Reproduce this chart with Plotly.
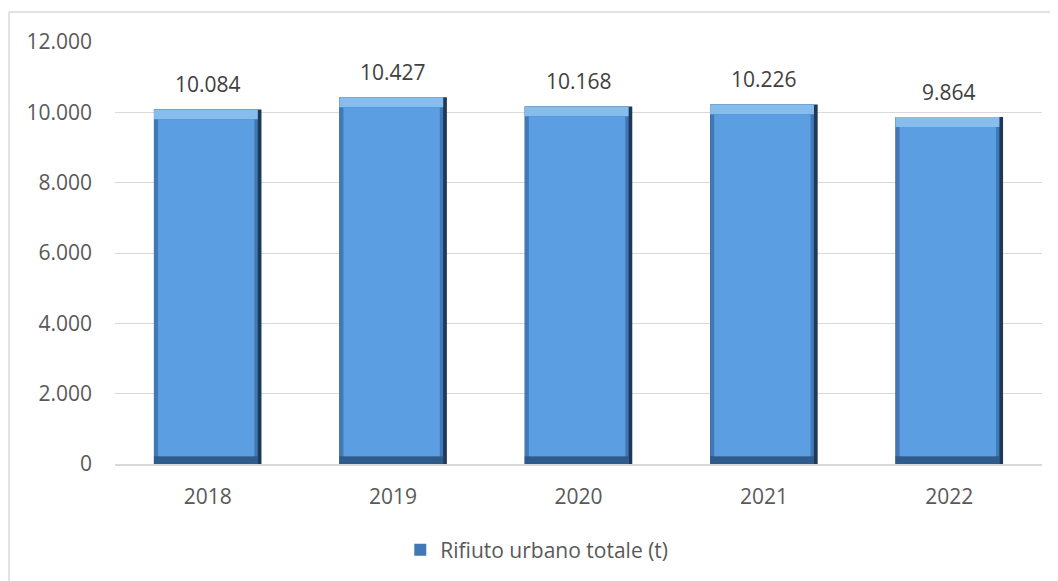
import plotly.graph_objects as go

years = ["2018", "2019", "2020", "2021", "2022"]
values = [10084, 10427, 10168, 10226, 9864]
series_name = "Rifiuto urbano totale (t)"
y_ticks = [0, 2000, 4000, 6000, 8000, 10000, 12000]

W, H = 1058, 581
ml, mr, mt, mb = 107, 24, 34, 125

fig = go.Figure()

top_bevel = 280
bottom_bevel = 220

# darkest full bar (right edge shade)
fig.add_trace(go.Bar(x=years, y=values, width=0.58, offset=-0.29,
                     marker=dict(color="#1f3856", line=dict(width=0)),
                     showlegend=False, hoverinfo="skip"))
# left + main region - legend entry
fig.add_trace(go.Bar(x=years, y=values, width=0.56, offset=-0.29,
                     marker=dict(color="#4079b6", line=dict(width=0)),
                     name=series_name, showlegend=True, hoverinfo="skip"))
# top bevel (light)
fig.add_trace(go.Bar(x=years, y=[top_bevel] * len(values),
                     base=[v - top_bevel for v in values],
                     width=0.56, offset=-0.29,
                     marker=dict(color="#86bdec", line=dict(width=0)),
                     showlegend=False, hoverinfo="skip"))
# bottom bevel (dark)
fig.add_trace(go.Bar(x=years, y=[bottom_bevel] * len(values),
                     width=0.56, offset=-0.29,
                     marker=dict(color="#2f5b8c", line=dict(width=0)),
                     showlegend=False, hoverinfo="skip"))
# face
fig.add_trace(go.Bar(x=years, y=[v - top_bevel - bottom_bevel for v in values],
                     base=[bottom_bevel] * len(values),
                     width=0.52, offset=-0.268,
                     marker=dict(color="#5b9fe2", line=dict(width=0)),
                     showlegend=False, hoverinfo="skip"))

annotations = []
for i, v in enumerate(values):
    annotations.append(dict(x=i, y=v, xref="x", yref="y",
                            text=f"{v:,}".replace(",", "."),
                            showarrow=False, yshift=25,
                            font=dict(size=21, color="#404040", family="Open Sans")))

plot_w = W - ml - mr
plot_h = H - mt - mb
px0 = (1 - ml) / plot_w
py1 = (H - mb - 4) / plot_h
shapes = [
    dict(type="line", xref="paper", yref="paper", x0=px0, x1=px0, y0=py1, y1=-0.5,
         line=dict(color="#d9d9d9", width=1.5)),
    dict(type="line", xref="paper", yref="paper", x0=px0, x1=1.1, y0=py1, y1=py1,
         line=dict(color="#d9d9d9", width=1.5)),
]

fig.update_layout(
    width=W, height=H, autosize=False,
    margin=dict(l=ml, r=mr, t=mt, b=mb),
    barmode="overlay",
    separators=",.",
    paper_bgcolor="white", plot_bgcolor="white",
    font=dict(family="Open Sans", size=21, color="#595959"),
    xaxis=dict(type="category", range=[-0.5, len(years) - 0.5],
               showgrid=False, showline=True,
               linecolor="#d9d9d9", linewidth=2, ticks="",
               ticklabelstandoff=13,
               tickfont=dict(size=21, color="#595959")),
    yaxis=dict(range=[0, 12000], tickvals=y_ticks, tickformat=",.0f",
               showgrid=True, gridcolor="#d9d9d9", gridwidth=1,
               zeroline=False, showline=False, ticks="",
               ticklabelstandoff=22,
               tickfont=dict(size=21, color="#595959")),
    legend=dict(orientation="h", x=0.455, xanchor="center", y=-0.204, yanchor="middle",
                font=dict(size=21, color="#595959")),
    annotations=annotations,
    shapes=shapes,
)

fig.write_html("out.html")
